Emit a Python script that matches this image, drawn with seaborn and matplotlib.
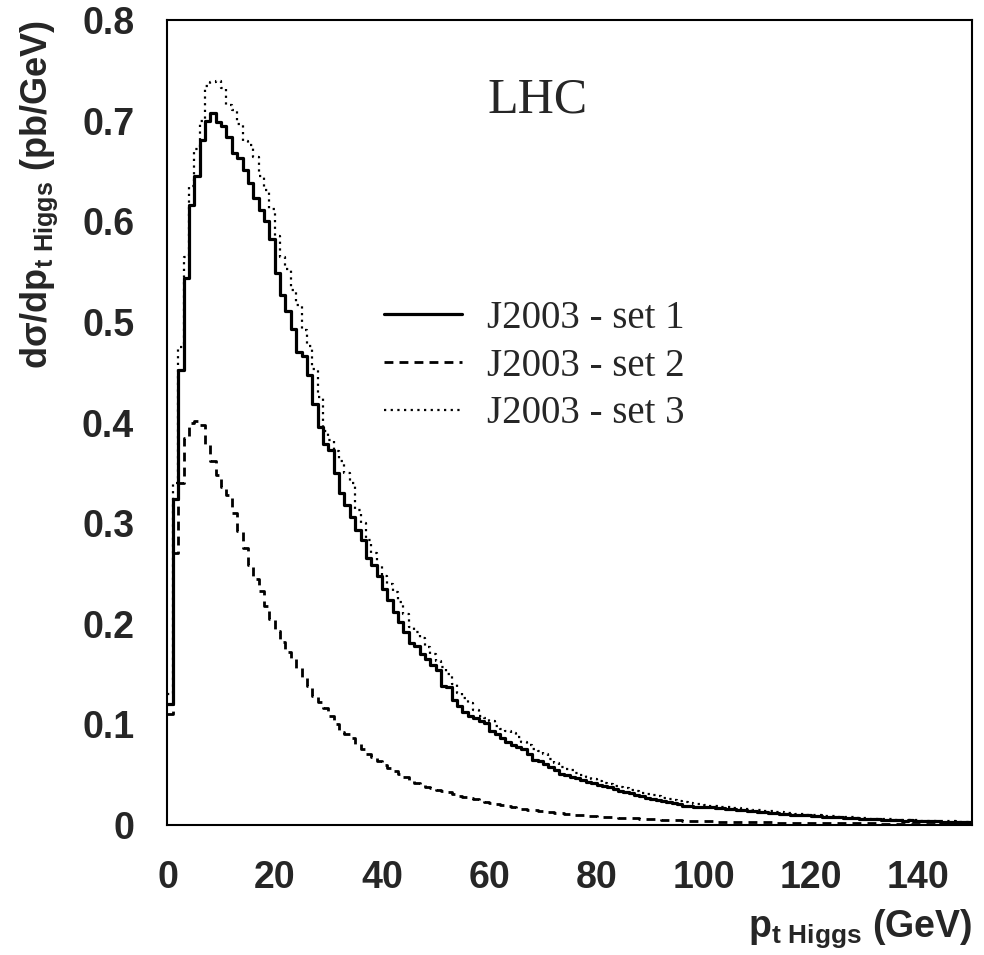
import numpy as np
import pandas as pd
import matplotlib
matplotlib.use("Agg")
import matplotlib.pyplot as plt
import seaborn as sns
from matplotlib.ticker import MultipleLocator

# ---------------- data (1 GeV bins, 0..150 GeV) ----------------
bin_lo = list(range(0, 150))

set1 = [0.120, 0.324, 0.452, 0.544, 0.616, 0.645, 0.681, 0.700, 0.708, 0.699,
        0.695, 0.684, 0.668, 0.663, 0.651, 0.638, 0.623, 0.611, 0.600, 0.582,
        0.549, 0.527, 0.511, 0.493, 0.470, 0.466, 0.447, 0.418, 0.396, 0.379,
        0.373, 0.350, 0.330, 0.318, 0.306, 0.293, 0.283, 0.265, 0.258, 0.247,
        0.235, 0.224, 0.212, 0.202, 0.192, 0.181, 0.178, 0.170, 0.165, 0.159,
        0.154, 0.138, 0.137, 0.124, 0.118, 0.112, 0.108, 0.106, 0.103, 0.101,
        0.093, 0.090, 0.086, 0.083, 0.080, 0.078, 0.076, 0.071, 0.065, 0.064,
        0.061, 0.058, 0.055, 0.051, 0.050, 0.048, 0.047, 0.045, 0.043, 0.042,
        0.040, 0.039, 0.038, 0.036, 0.034, 0.033, 0.032, 0.030, 0.029, 0.027,
        0.026, 0.025, 0.024, 0.023, 0.022, 0.021, 0.019, 0.019, 0.018, 0.018,
        0.018, 0.018, 0.017, 0.017, 0.016, 0.016, 0.015, 0.015, 0.014, 0.014,
        0.013, 0.013, 0.012, 0.012, 0.011, 0.011, 0.010, 0.010, 0.0098, 0.0095,
        0.0090, 0.0088, 0.0084, 0.0080, 0.0078, 0.0075, 0.0072, 0.0068, 0.0065, 0.0060,
        0.0058, 0.0062, 0.0055, 0.0052, 0.0050, 0.0048, 0.0046, 0.0044, 0.0045, 0.0042,
        0.0040, 0.0040, 0.0038, 0.0036, 0.0035, 0.0034, 0.0032, 0.0032, 0.0030, 0.0030]

set2 = [0.110, 0.270, 0.340, 0.385, 0.400, 0.402, 0.398, 0.378, 0.362, 0.348,
        0.336, 0.328, 0.310, 0.292, 0.275, 0.258, 0.245, 0.233, 0.218, 0.205,
        0.193, 0.182, 0.172, 0.165, 0.156, 0.147, 0.138, 0.128, 0.122, 0.116,
        0.108, 0.100, 0.092, 0.090, 0.086, 0.081, 0.076, 0.071, 0.068, 0.064,
        0.060, 0.057, 0.054, 0.051, 0.048, 0.045, 0.042, 0.040, 0.038, 0.037,
        0.035, 0.034, 0.033, 0.031, 0.029, 0.028, 0.027, 0.026, 0.025, 0.023,
        0.022, 0.021, 0.020, 0.019, 0.018, 0.017, 0.016, 0.015, 0.0145, 0.014,
        0.013, 0.0125, 0.012, 0.0115, 0.011, 0.0105, 0.010, 0.0095, 0.009, 0.0085,
        0.0082, 0.008, 0.0078, 0.0075, 0.0072, 0.007, 0.0068, 0.0065, 0.0062, 0.006,
        0.0058, 0.0055, 0.0052, 0.005, 0.0048, 0.0046, 0.0044, 0.0042, 0.004, 0.0038,
        0.0037, 0.0036, 0.0035, 0.0034, 0.0033, 0.0032, 0.0031, 0.0030, 0.0029, 0.0028,
        0.0027, 0.0027, 0.0026, 0.0025, 0.0025, 0.0024, 0.0023, 0.0023, 0.0022, 0.0022,
        0.0021, 0.0021, 0.0020, 0.0020, 0.0019, 0.0019, 0.0018, 0.0018, 0.0017, 0.0017,
        0.0016, 0.0016, 0.0016, 0.0015, 0.0015, 0.0014, 0.0014, 0.0014, 0.0013, 0.0013,
        0.0013, 0.0012, 0.0012, 0.0012, 0.0011, 0.0011, 0.0011, 0.0010, 0.0010, 0.0010]

set3 = [0.130, 0.340, 0.475, 0.565, 0.635, 0.672, 0.700, 0.734, 0.738, 0.739,
        0.732, 0.716, 0.711, 0.697, 0.680, 0.676, 0.664, 0.645, 0.631, 0.612,
        0.585, 0.565, 0.553, 0.532, 0.517, 0.492, 0.476, 0.453, 0.425, 0.392,
        0.383, 0.372, 0.362, 0.350, 0.340, 0.313, 0.300, 0.283, 0.270, 0.257,
        0.247, 0.240, 0.232, 0.222, 0.210, 0.197, 0.192, 0.186, 0.177, 0.170,
        0.163, 0.157, 0.150, 0.140, 0.131, 0.126, 0.121, 0.114, 0.108, 0.106,
        0.103, 0.098, 0.095, 0.093, 0.091, 0.087, 0.083, 0.080, 0.076, 0.074,
        0.071, 0.066, 0.062, 0.058, 0.056, 0.055, 0.052, 0.050, 0.048, 0.046,
        0.044, 0.042, 0.041, 0.039, 0.038, 0.037, 0.035, 0.034, 0.032, 0.031,
        0.030, 0.029, 0.027, 0.026, 0.025, 0.024, 0.023, 0.022, 0.021, 0.021,
        0.020, 0.019, 0.019, 0.018, 0.018, 0.017, 0.017, 0.016, 0.016, 0.015,
        0.015, 0.014, 0.014, 0.013, 0.013, 0.012, 0.012, 0.011, 0.011, 0.010,
        0.010, 0.0098, 0.0094, 0.0090, 0.0086, 0.0083, 0.0080, 0.0076, 0.0072, 0.0070,
        0.0066, 0.0064, 0.0060, 0.0058, 0.0056, 0.0054, 0.0052, 0.0050, 0.0048, 0.0046,
        0.0044, 0.0043, 0.0041, 0.0040, 0.0038, 0.0037, 0.0036, 0.0035, 0.0034, 0.0033]

series_labels = ["J2003 - set 1", "J2003 - set 2", "J2003 - set 3"]
x_ticks = [0, 20, 40, 60, 80, 100, 120, 140]
y_ticks = [0, 0.1, 0.2, 0.3, 0.4, 0.5, 0.6, 0.7, 0.8]
y_ticklabels = ["0", "0.1", "0.2", "0.3", "0.4", "0.5", "0.6", "0.7", "0.8"]

# ---------------- style ----------------
sns.set_style("white")
plt.rcParams['font.family'] = ['Liberation Sans', 'DejaVu Sans']
plt.rcParams['mathtext.fontset'] = 'custom'
plt.rcParams['mathtext.rm'] = 'Liberation Sans:bold'
plt.rcParams['mathtext.bf'] = 'Liberation Sans:bold'
plt.rcParams['mathtext.it'] = 'Liberation Sans:bold'
plt.rcParams['mathtext.sf'] = 'Liberation Sans:bold'

fig = plt.figure(figsize=(9.84, 9.55), dpi=100)
ax = fig.add_axes([0.1702, 0.1361, 0.8176, 0.8429])

edges = bin_lo + [150]
centers = [b + 0.5 for b in bin_lo]

styles = [dict(linestyle='-', linewidth=2.3),
          dict(linestyle=(0, (3.2, 2.2)), linewidth=2.0),
          dict(linestyle=(0, (1.0, 2.0)), linewidth=1.6)]

handles = []
for vals, st in zip([set1, set2, set3], styles):
    df = pd.DataFrame({"pt": centers, "w": vals})
    n_before = len(ax.lines)
    sns.histplot(data=df, x="pt", weights="w", bins=edges, element="step",
                 fill=False, color="black", ax=ax, **st)
    handles.append(ax.lines[n_before])

ax.set_xlim(0, 150)
ax.set_ylim(0, 0.8)

ax.set_xticks(x_ticks)
ax.set_xticklabels([str(v) for v in x_ticks])
ax.set_yticks(y_ticks)
ax.set_yticklabels(y_ticklabels)
ax.yaxis.set_minor_locator(MultipleLocator(0.02))

ax.tick_params(axis='both', which='major', direction='in', labelsize=27,
               width=1.0, color='black')
ax.tick_params(axis='x', which='major', length=18, pad=25)
ax.tick_params(axis='y', which='major', length=20, pad=24)
ax.tick_params(axis='y', which='minor', direction='in', length=10, width=1.0)
for lab in ax.get_xticklabels() + ax.get_yticklabels():
    lab.set_fontweight('bold')

for sp in ax.spines.values():
    sp.set_linewidth(1.5)
    sp.set_color('black')

ax.set_xlabel(r"p$_{\mathbf{t\ Higgs}}$ (GeV)", fontsize=27, fontweight='bold',
              loc='right', labelpad=8)
ax.set_ylabel(r"d$\mathbf{\sigma}$/dp$_{\mathbf{t\ Higgs}}$ (pb/GeV)", fontsize=26,
              fontweight='bold', loc='top', labelpad=16)

ax.text(59.7, 0.72, "LHC", fontsize=36, family=['Liberation Serif'],
        ha='left', va='center')

leg = ax.legend(handles=handles, labels=series_labels, loc='upper left',
                bbox_to_anchor=(0.250, 0.672), frameon=False,
                prop={'family': 'Liberation Serif', 'size': 28},
                handlelength=2.0, handletextpad=0.65, labelspacing=0.28,
                borderaxespad=0)

fig.savefig("out.png", dpi=100)
